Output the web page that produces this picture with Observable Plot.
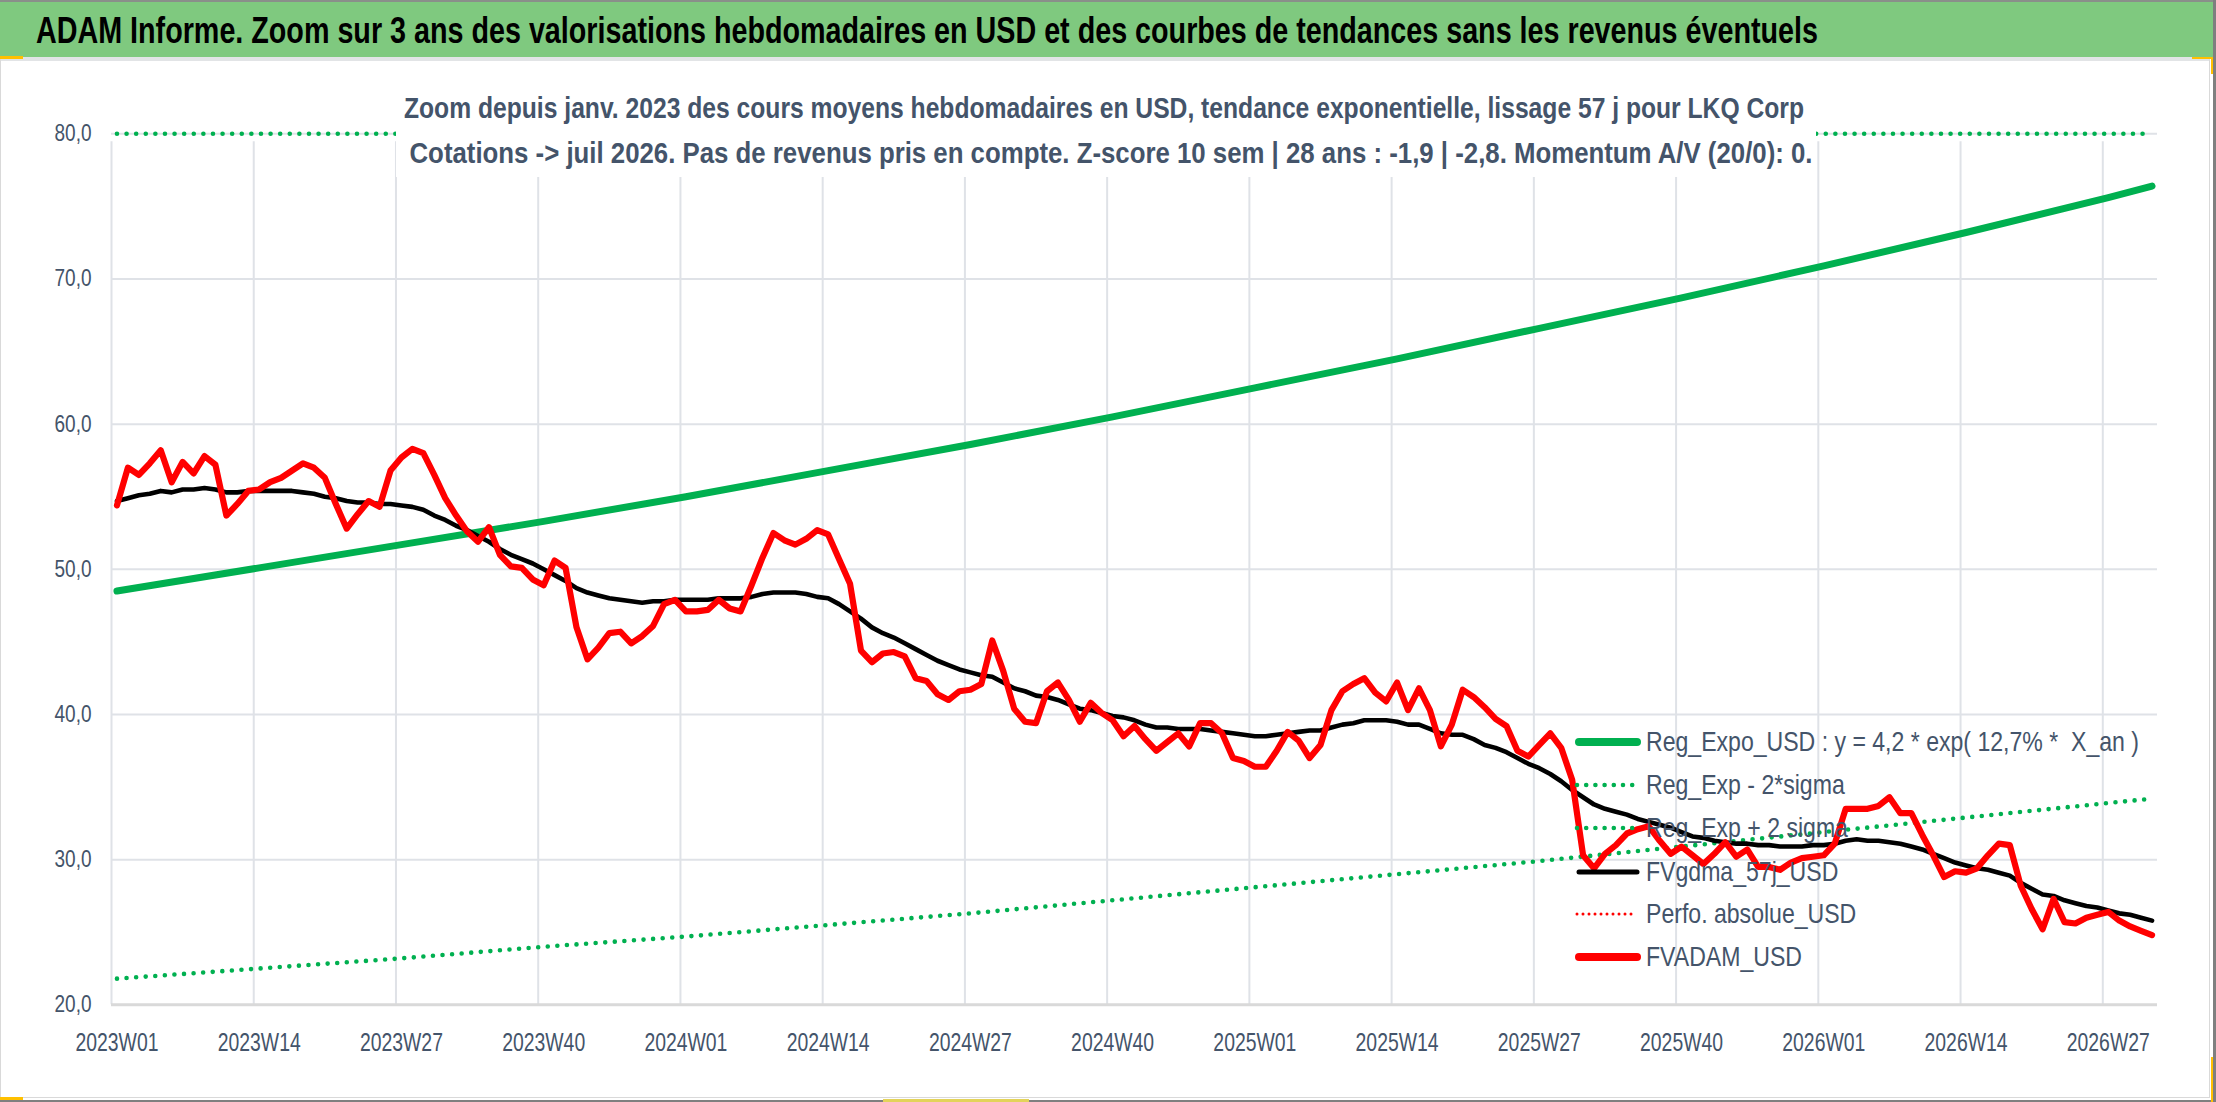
<!DOCTYPE html>
<html>
<head>
<meta charset="utf-8">
<script src="https://cdn.jsdelivr.net/npm/d3@7"></script>
<script src="https://cdn.jsdelivr.net/npm/@observablehq/plot@0.6"></script>
<style>
  html, body { margin: 0; padding: 0; background: #fff; }
  #wrap { position: relative; width: 2216px; height: 1102px; overflow: hidden; background: #fff;
          font-family: "Liberation Sans", Arial, sans-serif; }
  #band { position: absolute; left: 0; top: 0; width: 2213px; height: 57px; background: #7fc97f;
          border-top: 2px solid #8a8f8a; box-sizing: border-box; }
  #title { position: absolute; left: 36px; top: 31px; white-space: nowrap; font-weight: bold;
           font-size: 36px; line-height: 36px; color: #000; transform-origin: left center; }
  #frame { position: absolute; left: 0; top: 57px; width: 2210px; height: 1041px; box-sizing: border-box;
           border: 1px solid #d9d9d9; border-top: 4px solid #e2e4e6; }
  #darkR { position: absolute; left: 2213px; top: 0; width: 3px; height: 1102px; background: #7f7f7f; }
  #darkB { position: absolute; left: 0; top: 1100px; width: 2216px; height: 2px; background: #7f7f7f; }
  .gold { position: absolute; background: #ffc000; }
  #chart { position: absolute; left: 0; top: 60px; }
  #subbox { position: absolute; left: 396px; top: 80px; width: 1420px; height: 97px; background: #fff; }
  .sub { position: absolute; white-space: nowrap; font-weight: bold; font-size: 29px; line-height: 29px;
         color: #44546a; transform-origin: center center; }
  .lgtext { position: absolute; left: 1646px; white-space: pre; font-size: 28px; line-height: 28px;
            color: #44546a; transform-origin: left center; }
  .lgsw { position: absolute; left: 1572px; }
</style>
</head>
<body>
<div id="wrap">
  <div id="band"></div>
  <div id="title">ADAM Informe. Zoom sur 3 ans des valorisations hebdomadaires en USD et des courbes de tendances sans les revenus éventuels</div>
  <div id="frame"></div>
  <div id="chart"></div>
  <div id="subbox"></div>
  <div class="sub" id="sub1">Zoom depuis janv. 2023 des cours moyens hebdomadaires en USD, tendance exponentielle, lissage 57 j pour LKQ Corp</div>
  <div class="sub" id="sub2">Cotations -&gt; juil 2026. Pas de revenus pris en compte. Z-score 10 sem | 28 ans : -1,9 | -2,8. Momentum A/V (20/0): 0.</div>
  <div id="legend"></div>
  <div id="darkR"></div>
  <div id="darkB"></div>
  <div class="gold" style="left:0;top:56px;width:23px;height:3px"></div>
  <div class="gold" style="left:0;top:1097px;width:23px;height:3px"></div>
  <div class="gold" style="left:2192px;top:57px;width:21px;height:2px"></div>
  <div class="gold" style="left:2211px;top:57px;width:2px;height:17px"></div>
  <div class="gold" style="left:2211px;top:1057px;width:2px;height:45px"></div>
  <div class="gold" style="left:883px;top:1099px;width:146px;height:3px;background:#e3d35a"></div>
</div>
<script>
// ---------- DATA ----------
const tickLabels = ["2023W01","2023W14","2023W27","2023W40","2024W01","2024W14","2024W27","2024W40",
                    "2025W01","2025W14","2025W27","2025W40","2026W01","2026W14","2026W27"];
const tickIndex = [0,13,26,39,52,65,78,91,104,117,130,143,156,169,182];
const yTicks = [20,30,40,50,60,70,80];

// FVADAM_USD (weekly, from 2023W01)
const fvadamUSD = [
  54.4,57.0,56.5,57.3,58.2,56.0,57.4,56.6,57.8,57.2,53.7,54.5,55.4,55.5,56.0,56.3,56.8,57.3,57.0,56.3,
  54.5,52.8,53.8,54.7,54.3,56.8,57.7,58.3,58.0,56.5,54.9,53.7,52.6,51.9,52.9,51.0,50.2,50.1,49.3,48.9,
  50.6,50.1,46.0,43.8,44.6,45.6,45.7,44.9,45.4,46.1,47.6,47.9,47.1,47.1,47.2,47.9,47.3,47.1,48.9,50.8,
  52.5,52.0,51.7,52.1,52.7,52.4,50.7,49.0,44.4,43.6,44.2,44.3,44.0,42.5,42.3,41.4,41.0,41.6,41.7,42.1,
  45.1,43.0,40.4,39.5,39.4,41.6,42.2,41.0,39.5,40.8,40.1,39.6,38.5,39.2,38.3,37.5,38.1,38.7,37.8,39.4,
  39.4,38.7,37.0,36.8,36.4,36.4,37.5,38.8,38.2,37.0,37.9,40.3,41.6,42.1,42.5,41.5,40.9,42.2,40.3,41.8,
  40.3,37.8,39.3,41.7,41.2,40.5,39.7,39.2,37.5,37.1,37.9,38.7,37.7,35.5,30.3,29.4,30.4,31.0,31.8,32.1,
  32.3,31.3,30.4,30.9,30.3,29.7,30.4,31.2,30.2,30.7,29.5,29.5,29.3,29.8,30.1,30.2,30.3,31.1,33.5,33.5,
  33.5,33.7,34.3,33.2,33.2,31.7,30.3,28.8,29.2,29.1,29.4,30.3,31.1,31.0,28.2,26.6,25.2,27.3,25.7,25.6,
  26.0,26.2,26.4,25.8,25.4,25.1,24.8
];
// FVgdma_57j_USD
const fvgdma57jUSD = [
  54.7,54.9,55.1,55.2,55.4,55.3,55.5,55.5,55.6,55.5,55.3,55.3,55.4,55.4,55.4,55.4,55.4,55.3,55.2,55.0,
  54.9,54.7,54.6,54.6,54.5,54.5,54.4,54.3,54.1,53.7,53.4,53.0,52.7,52.3,51.9,51.4,51.0,50.7,50.4,50.0,
  49.6,49.2,48.7,48.4,48.2,48.0,47.9,47.8,47.7,47.8,47.8,47.9,47.9,47.9,47.9,48.0,48.0,48.0,48.1,48.3,
  48.4,48.4,48.4,48.3,48.1,48.0,47.6,47.1,46.6,46.0,45.6,45.3,44.9,44.5,44.1,43.7,43.4,43.1,42.9,42.7,
  42.6,42.2,41.8,41.6,41.3,41.2,41.0,40.7,40.4,40.3,40.1,39.9,39.8,39.6,39.3,39.1,39.1,39.0,39.0,39.0,
  38.9,38.8,38.7,38.6,38.5,38.5,38.6,38.7,38.8,38.9,38.9,39.1,39.3,39.4,39.6,39.6,39.6,39.5,39.3,39.3,
  39.0,38.7,38.6,38.6,38.3,37.9,37.7,37.4,37.0,36.6,36.3,35.9,35.4,34.8,34.3,33.8,33.5,33.3,33.1,32.8,
  32.6,32.4,32.2,31.9,31.6,31.5,31.3,31.2,31.1,31.1,31.0,31.0,30.9,30.9,30.9,31.0,31.0,31.1,31.3,31.4,
  31.3,31.3,31.2,31.1,30.9,30.7,30.4,30.1,29.8,29.6,29.4,29.3,29.1,28.9,28.4,28.0,27.6,27.5,27.2,27.0,
  26.8,26.7,26.5,26.3,26.2,26.0,25.8
];
// Trend curves read at the tick weeks and the last week
const trendIndex = [0,13,26,39,52,65,78,91,104,117,130,143,156,169,182,186];
const regExpoUSD = [48.5,50.1,51.7,53.3,55.0,56.8,58.6,60.5,62.5,64.5,66.6,68.7,70.9,73.2,75.6,76.4];
const regExpMinus2Sigma = [21.8,22.5,23.2,24.0,24.7,25.5,26.3,27.2,28.1,29.0,29.9,30.9,31.9,32.9,33.9,34.2];
const regExpPlus2Sigma = [80,80,80,80,80,80,80,80,80,80,80,80,80,80,80,80];

const legendLabels = ["Reg_Expo_USD : y = 4,2 * exp( 12,7% *  X_an )","Reg_Exp - 2*sigma","Reg_Exp + 2 sigma",
                      "FVgdma_57j_USD","Perfo. absolue_USD","FVADAM_USD"];

// ---------- BUILD ----------
const N = fvadamUSD.length;
const series = d3.range(N).map(i => ({i, red: fvadamUSD[i], black: fvgdma57jUSD[i]}));
const trend = trendIndex.map((i, k) => ({i, reg: regExpoUSD[k], lo: regExpMinus2Sigma[k], hi: regExpPlus2Sigma[k]}));
const gridIdx = tickIndex.map(i => i - 0.5);

const GRID = "#dfe2e7";
const TXT = "#44546a";
const FONT = "Liberation Sans, Arial, sans-serif";

const chart = Plot.plot({
  width: 2209,
  height: 1037,
  marginLeft: 111,
  marginRight: 52,
  marginTop: 73.3,
  marginBottom: 92.7,
  style: {background: "transparent", fontFamily: FONT, overflow: "visible"},
  x: {type: "linear", domain: [-0.5, N - 0.5], axis: null, label: null},
  y: {type: "linear", domain: [20, 80], axis: null, label: null},
  marks: [
    Plot.ruleY(yTicks.filter(v => v > 20), {stroke: GRID, strokeWidth: 2}),
    Plot.ruleX(gridIdx, {y1: 20, y2: 80, stroke: GRID, strokeWidth: 2, insetBottom: -8}),
    Plot.ruleY([20], {stroke: "#d9d9d9", strokeWidth: 3}),
    Plot.axisY(yTicks, {anchor: "left", tickSize: 0, tickPadding: 20, fontSize: 23, color: TXT, label: null,
      tickFormat: d => d.toFixed(1).replace(".", ",")}),
    Plot.axisX(tickIndex, {anchor: "bottom", tickSize: 0, tickPadding: 28, fontSize: 25, color: TXT, label: null,
      tickFormat: d => tickLabels[tickIndex.indexOf(d)]}),
    Plot.line(trend, {x: "i", y: "reg", stroke: "#00b050", strokeWidth: 7, strokeLinecap: "round"}),
    Plot.line(trend, {x: "i", y: "lo", stroke: "#00b050", strokeWidth: 4.6, strokeDasharray: "0 9.6", strokeLinecap: "round"}),
    Plot.line(trend, {x: "i", y: "hi", stroke: "#00b050", strokeWidth: 4.6, strokeDasharray: "0 9.6", strokeLinecap: "round"}),
    Plot.line(series, {x: "i", y: "black", stroke: "#000000", strokeWidth: 4.6, strokeLinejoin: "round"}),
    Plot.line(series, {x: "i", y: "red", stroke: "#ff0000", strokeWidth: 6.2, strokeLinejoin: "round"})
  ]
});
document.getElementById("chart").appendChild(chart);

// condense axis texts (reference uses a narrow face)
function condense(sel, sample, target) {
  const texts = chart.querySelectorAll(sel);
  let f = 0.8;
  texts.forEach(t => { if (t.textContent === sample) f = target / t.getComputedTextLength(); });
  texts.forEach(t => {
    t.setAttribute("textLength", (t.getComputedTextLength() * f).toFixed(2));
    t.setAttribute("lengthAdjust", "spacingAndGlyphs");
  });
}
condense('[aria-label="x-axis tick label"] text', "2023W01", 83);
condense('[aria-label="y-axis tick label"] text', "80,0", 37);

// title and subtitle: scale to reference widths
function fitHTML(el, target) {
  const w = el.getBoundingClientRect().width;
  return target / w;
}
const title = document.getElementById("title");
const ft = fitHTML(title, 1782);
title.style.transform = `translateY(-50%) scaleX(${ft})`;

function placeSub(id, cx, cy, target) {
  const el = document.getElementById(id);
  const f = fitHTML(el, target);
  el.style.left = cx + "px";
  el.style.top = cy + "px";
  el.style.transform = `translate(-50%,-50%) scaleX(${f})`;
}
placeSub("sub1", 1104, 107.5, 1400);
placeSub("sub2", 1111, 152.5, 1403);

// legend (no frame, transparent)
const legendRowsY = [741.7, 785, 828, 871.7, 914, 956.7];
const swatches = [
  {stroke: "#00b050", w: 8, dash: null},
  {stroke: "#00b050", w: 4.6, dash: "0 9.2"},
  {stroke: "#00b050", w: 4.6, dash: "0 9.2"},
  {stroke: "#000000", w: 5, dash: null},
  {stroke: "#ff0000", w: 3, dash: "0 6"},
  {stroke: "#ff0000", w: 8, dash: null}
];
const lg = document.getElementById("legend");
let lf = null;
legendLabels.forEach((lab, k) => {
  const cy = legendRowsY[k];
  const s = swatches[k];
  const svgNS = "http://www.w3.org/2000/svg";
  const sv = document.createElementNS(svgNS, "svg");
  sv.setAttribute("width", 70); sv.setAttribute("height", 20);
  sv.setAttribute("class", "lgsw");
  sv.style.top = (cy - 10) + "px";
  const ln = document.createElementNS(svgNS, "line");
  ln.setAttribute("x1", s.dash ? 5 : 7); ln.setAttribute("x2", 65);
  ln.setAttribute("y1", 10); ln.setAttribute("y2", 10);
  ln.setAttribute("stroke", s.stroke); ln.setAttribute("stroke-width", s.w);
  ln.setAttribute("stroke-linecap", "round");
  if (s.dash) ln.setAttribute("stroke-dasharray", s.dash);
  sv.appendChild(ln);
  lg.appendChild(sv);
  const tx = document.createElement("div");
  tx.className = "lgtext";
  tx.textContent = lab;
  tx.style.top = cy + "px";
  lg.appendChild(tx);
  if (lf === null) lf = 493 / tx.getBoundingClientRect().width;
  tx.style.transform = `translateY(-50%) scaleX(${lf})`;
});
</script>
</body>
</html>
